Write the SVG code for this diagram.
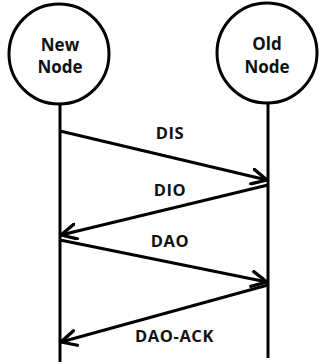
<svg xmlns="http://www.w3.org/2000/svg" width="322" height="364" viewBox="0 0 322 364">
  <style>
    .node circle { fill: #fff; stroke: #000; stroke-width: 3; }
    .life { stroke: #000; stroke-width: 3; }
    .msg { stroke: #000; stroke-width: 3; fill: none; marker-end: url(#chev); }
    text { font-family: "Open Sans", "Liberation Sans", sans-serif; font-weight: bold; fill: #111; text-anchor: middle; }
    .nlabel { font-size: 17px; }
    .mlabel { font-size: 16.5px; letter-spacing: 0.6px; }
  </style>
  <defs>
    <marker id="chev" viewBox="0 0 12 12" refX="11" refY="6" markerWidth="6" markerHeight="6" markerUnits="strokeWidth" orient="auto">
      <polyline points="1,1 11,6 1,11" fill="none" stroke="#000" stroke-width="2.2" stroke-linecap="round" stroke-linejoin="round"/>
    </marker>
  </defs>

  <g id="lifelines">
    <line class="life" x1="60" y1="103" x2="60" y2="362"/>
    <line class="life" x1="268" y1="101" x2="268" y2="358"/>
  </g>

  <g id="new-node" class="node">
    <circle cx="59" cy="54" r="50"/>
    <text class="nlabel" x="60" y="50.5">New</text>
    <text class="nlabel" x="60" y="73.3">Node</text>
  </g>

  <g id="old-node" class="node">
    <circle cx="267" cy="53" r="50"/>
    <text class="nlabel" x="267" y="50">Old</text>
    <text class="nlabel" x="267" y="73">Node</text>
  </g>

  <g id="connectors">
    <line class="msg" x1="60" y1="131" x2="267" y2="180"/>
    <line class="msg" x1="268" y1="185" x2="61" y2="235"/>
    <line class="msg" x1="60" y1="240" x2="267" y2="282"/>
    <line class="msg" x1="268" y1="285" x2="61" y2="342"/>
  </g>

  <g id="labels">
    <text class="mlabel" x="170" y="139">DIS</text>
    <text class="mlabel" x="170" y="196">DIO</text>
    <text class="mlabel" x="170" y="247">DAO</text>
    <text class="mlabel" x="174.5" y="342.3">DAO-ACK</text>
  </g>
</svg>
